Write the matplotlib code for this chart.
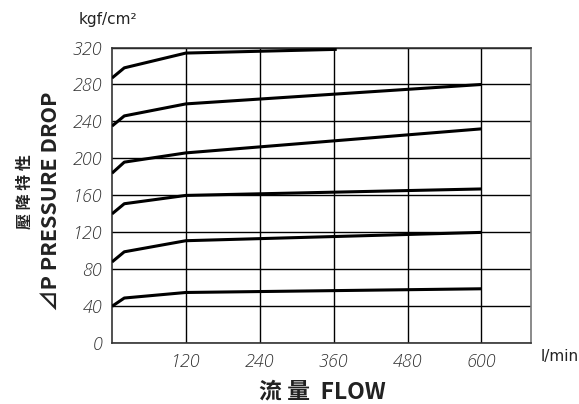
import matplotlib
matplotlib.use('Agg')
import matplotlib.pyplot as plt

# flow (l/min) vs pressure drop (kgf/cm2), one curve per setting
flow_short = [0, 20, 120, 365]
flow = [0, 20, 120, 600]
curves = [
    (flow_short, [287, 298, 314, 318]),
    (flow, [235, 246, 259, 280]),
    (flow, [184, 196, 206, 232]),
    (flow, [140, 151, 160, 167]),
    (flow, [88, 99, 111, 120]),
    (flow, [40, 49, 55, 59]),
]

x_ticks = [120, 240, 360, 480, 600]
y_ticks = [0, 40, 80, 120, 160, 200, 240, 280, 320]

cjk = ['Noto Sans CJK TC', 'DejaVu Sans']

fig = plt.figure(figsize=(5.79, 4.04), dpi=100)
ax = fig.add_axes([0.1934, 0.1502, 0.7232, 0.7322])

for xs, ys in curves:
    ax.plot(xs, ys, color='black', lw=2.2, solid_capstyle='butt', zorder=3)

ax.set_xlim(0, 680)
ax.set_ylim(0, 320)
ax.set_xticks(x_ticks)
ax.set_yticks(y_ticks)
ax.grid(True, color='black', lw=1.0)
for s in ax.spines.values():
    s.set_color('#333333')
    s.set_linewidth(1.2)
ax.spines['right'].set_color('#777777')
ax.tick_params(length=0, pad=7, labelsize=13, labelcolor='#333333')
for lab in ax.get_xticklabels() + ax.get_yticklabels():
    lab.set_family('Open Sans')
    lab.set_fontstyle('italic')
    lab.set_fontweight('light')

fig.text(0.135, 0.952, 'kgf/cm²', fontsize=11, color='#222222', va='center')
fig.text(0.933, 0.117, 'l/min', fontsize=11, color='#222222', va='center')

fig.text(0.557, 0.030, '流 量  FLOW', fontsize=16.5, fontweight='bold',
         family=cjk, ha='center', va='center', color='#222222')
fig.text(0.043, 0.525, '壓 降 特 性', fontsize=11.5, fontweight='bold',
         family=cjk, rotation=90, ha='center', va='center', color='#222222')
fig.text(0.087, 0.502, '⊿P PRESSURE DROP', fontsize=15.5, fontweight='bold',
         family=cjk, rotation=90, ha='center', va='center', color='#222222')

fig.savefig('out.png', dpi=100)
